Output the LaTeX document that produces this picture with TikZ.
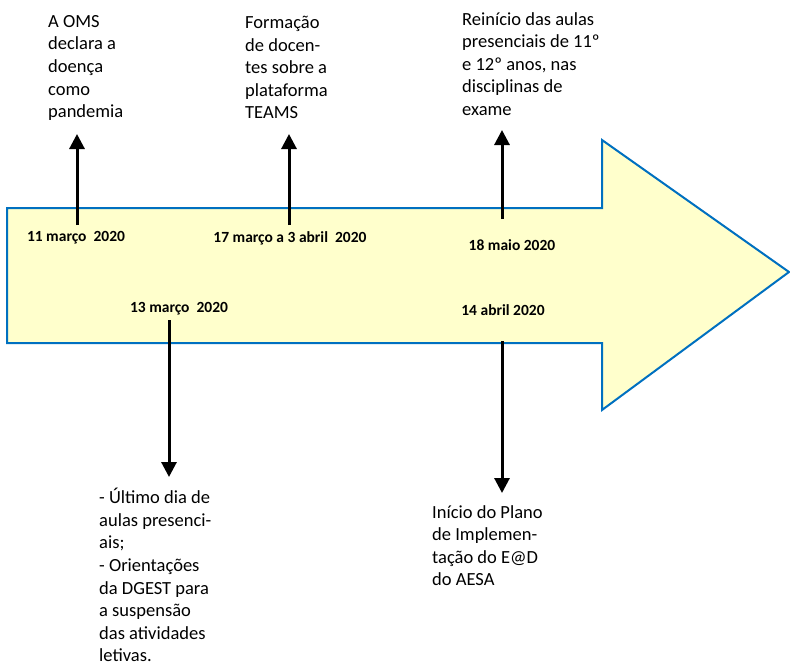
\documentclass[tikz,border=0pt]{standalone}
\usepackage{fontspec}
\setmainfont{Carlito}
\usepackage{tikz}
\usetikzlibrary{arrows.meta,positioning}

\definecolor{arrowfill}{RGB}{255,255,204}
\definecolor{arrowline}{RGB}{0,112,192}

\tikzset{
  event/.style={anchor=north west, align=left, inner sep=0pt,
    font=\fontsize{18.5}{22.6}\selectfont},
  date/.style={inner sep=0pt, font=\fontsize{15.5}{18}\selectfont\bfseries},
  pointer/.style={line width=3pt, -{Triangle[width=15pt,length=15pt]}}
}

\begin{document}
\begin{tikzpicture}[x=1pt, y=-1pt]
  \useasboundingbox (0,0) rectangle (790,664);
  % timeline arrow
  \draw[fill=arrowfill, draw=arrowline, line width=2pt, line join=miter]
    (7,208) -- (602,208) -- (602,140) -- (789,272) -- (602,410)
    -- (602,343) -- (7,343) -- cycle;

  % dates
  \node[date] (d_1) at (76,238)  {11 março\ \ 2020};
  \node[date] (d_2) at (290,238) {17 março a 3 abril\ \ 2020};
  \node[date] (d_3) at (179,309) {13 março\ \ 2020};
  \node[date] (d_4) at (512,245) {18 maio 2020};
  \node[date] (d_5) at (503,310) {14 abril 2020};

  % events
  \node[event] (e_1) at (48,15)  {A OMS\\declara a\\doença\\como\\pandemia};
  \node[event] (e_2) at (245,16) {Formação\\de docen-\\tes sobre a\\plataforma\\TEAMS};
  \node[event] (e_3) at (462,12) {Reinício das aulas\\presenciais de 11º\\e 12º anos, nas\\disciplinas de\\exame};
  \node[event] (e_4) at (99,488) {- Último dia de\\aulas presenci-\\ais;\\- Orientações\\da DGEST para\\a suspensão\\das atividades\\letivas.};
  \node[event] (e_5) at (432,505) {Início do Plano\\de Implemen-\\tação do E@D\\do AESA};

  % arrow ends
  \coordinate (a_1) at (77,225);  \coordinate (b_1) at (77,134);
  \coordinate (a_2) at (289,225); \coordinate (b_2) at (289,134);
  \coordinate (a_3) at (502,219); \coordinate (b_3) at (502,130);
  \coordinate (a_4) at (169,320); \coordinate (b_4) at (169,477);
  \coordinate (a_5) at (502,341); \coordinate (b_5) at (502,493);

  \path[pointer]
    (a_1) edge (b_1)
    (a_2) edge (b_2)
    (a_3) edge (b_3)
    (a_4) edge (b_4)
    (a_5) edge (b_5)
    ;
\end{tikzpicture}
\end{document}
